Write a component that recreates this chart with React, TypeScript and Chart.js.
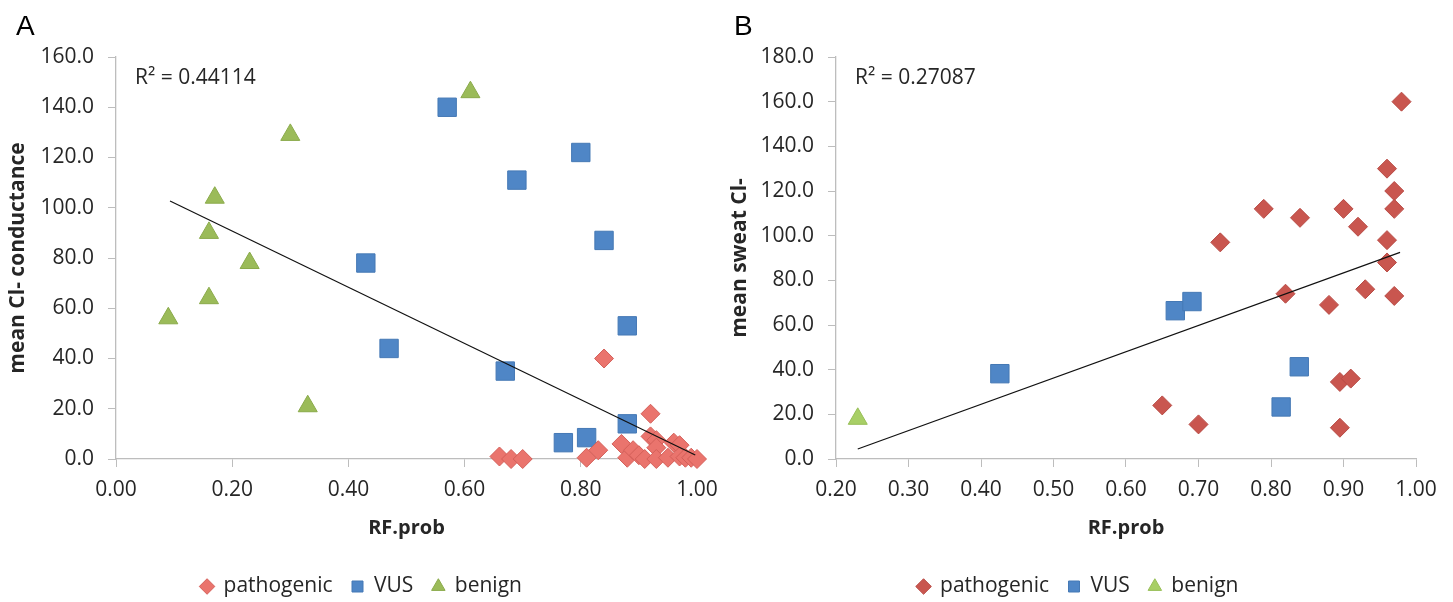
import React, { useEffect, useRef } from "react";
import { Chart, registerables } from "chart.js";

Chart.register(...registerables);

// ---- Chart A data ----
const pathogenicA: [number, number][] = [
  [0.66, 1], [0.68, 0], [0.70, 0], [0.81, 0.5], [0.83, 3.5], [0.84, 40], [0.87, 6],
  [0.88, 0.5], [0.89, 3.5], [0.90, 1.5], [0.91, 0], [0.92, 18], [0.92, 9], [0.93, 7.5],
  [0.93, 4.5], [0.93, 0], [0.95, 0.5], [0.96, 6.5], [0.97, 5.5], [0.97, 1], [0.98, 0.5],
  [0.99, 0.5], [1.0, 0],
];
const vusA: [number, number][] = [
  [0.57, 140], [0.80, 122], [0.69, 111], [0.43, 78], [0.84, 87], [0.47, 44],
  [0.67, 35], [0.88, 53], [0.77, 6.5], [0.81, 8.5], [0.88, 14],
];
const benignA: [number, number][] = [
  [0.09, 56], [0.16, 64], [0.16, 90], [0.17, 104], [0.23, 78], [0.30, 129],
  [0.33, 21], [0.61, 146],
];
const trendA: [number, number][] = [[0.093, 102.7], [0.997, 1.6]];
const r2A = "R² = 0.44114";

// ---- Chart B data ----
const pathogenicB: [number, number][] = [
  [0.98, 160], [0.96, 130], [0.97, 120], [0.97, 112], [0.79, 112], [0.84, 108],
  [0.90, 112], [0.92, 104], [0.96, 98], [0.73, 97], [0.96, 88], [0.82, 74],
  [0.93, 76], [0.97, 73], [0.88, 69], [0.895, 34.5], [0.91, 36], [0.65, 24],
  [0.70, 15.5], [0.895, 14],
];
const vusB: [number, number][] = [
  [0.668, 66.4], [0.691, 70.5], [0.839, 41.3], [0.814, 23.3], [0.426, 38.2],
];
const benignB: [number, number][] = [[0.23, 18]];
const trendB: [number, number][] = [[0.23, 4.5], [0.978, 92.5]];
const r2B = "R² = 0.27087";

const seriesNames = ["pathogenic", "VUS", "benign"];

const FONT = '"Open Sans", sans-serif';
const TEXT = "#262626";
const AXIS = "#BDBDBD";

const r2Plugin = {
  id: "r2",
  afterDraw(chart: any, _args: any, opts: any) {
    const { ctx, chartArea } = chart;
    ctx.save();
    ctx.font = `21px ${FONT}`;
    ctx.fillStyle = TEXT;
    ctx.textBaseline = "middle";
    ctx.textAlign = "left";
    ctx.fillText(opts.text, chartArea.left + 19, chartArea.top + 21);
    ctx.restore();
  },
};

const toPts = (arr: [number, number][]) => arr.map(([x, y]) => ({ x, y }));

function makeConfig(p: {
  path: [number, number][];
  vus: [number, number][];
  ben: [number, number][];
  trend: [number, number][];
  r2: string;
  colors: { path: string; pathB: string; vus: string; vusB: string; ben: string; benB: string };
  xMin: number;
  xMax: number;
  xStep: number;
  yMax: number;
  yTitle: string;
  padLeft: number;
  yWidth: number;
  padRight: number;
}) {
  const c = p.colors;
  return {
    type: "scatter",
    data: {
      datasets: [
        {
          label: seriesNames[0],
          data: toPts(p.path),
          pointStyle: "rectRot",
          pointRadius: 9.5,
          backgroundColor: c.path,
          borderColor: c.pathB,
          borderWidth: 1,
          clip: false,
          order: 1,
        },
        {
          label: seriesNames[1],
          data: toPts(p.vus),
          pointStyle: "rect",
          pointRadius: 13,
          backgroundColor: c.vus,
          borderColor: c.vusB,
          borderWidth: 1,
          clip: false,
          order: 2,
        },
        {
          label: seriesNames[2],
          data: toPts(p.ben),
          pointStyle: "triangle",
          pointRadius: 11,
          backgroundColor: c.ben,
          borderColor: c.benB,
          borderWidth: 1,
          clip: false,
          order: 3,
        },
        {
          label: "trend",
          type: "line",
          data: toPts(p.trend),
          showLine: true,
          pointRadius: 0,
          borderColor: "#111111",
          borderWidth: 1.2,
          fill: false,
          clip: false,
          order: 0,
        },
      ],
    },
    options: {
      responsive: false,
      animation: false,
      layout: { padding: { left: p.padLeft, right: p.padRight, top: 57, bottom: 0 } },
      plugins: {
        tooltip: { enabled: false },
        r2: { text: p.r2 },
        legend: {
          position: "bottom",
          maxHeight: 45,
          labels: {
            usePointStyle: true,
            boxWidth: 12,
            boxHeight: 11,
            padding: 19,
            color: TEXT,
            font: { family: FONT, size: 21 },
            filter: (item: any) => item.text !== "trend",
          },
        },
      },
      scales: {
        x: {
          type: "linear",
          min: p.xMin,
          max: p.xMax,
          afterFit: (s: any) => {
            s.height = 98;
            s.paddingRight = 0;
            s.paddingLeft = 0;
          },
          ticks: {
            stepSize: p.xStep,
            padding: 10,
            color: TEXT,
            font: { family: FONT, size: 21 },
            callback: (v: any) => Number(v).toFixed(2),
          },
          grid: { drawOnChartArea: false, drawTicks: true, tickLength: 8, color: AXIS },
          border: { color: AXIS, width: 1.3 },
          title: {
            display: true,
            text: "RF.prob",
            color: TEXT,
            font: { family: FONT, size: 20, weight: "bold" },
            padding: { top: 0, bottom: 17 },
          },
        },
        y: {
          type: "linear",
          min: 0,
          max: p.yMax,
          afterFit: (s: any) => {
            s.width = p.yWidth;
          },
          ticks: {
            stepSize: 20,
            padding: 14,
            color: TEXT,
            font: { family: FONT, size: 21 },
            callback: (v: any) => Number(v).toFixed(1),
          },
          grid: { drawOnChartArea: false, drawTicks: true, tickLength: 8, color: AXIS },
          border: { color: AXIS, width: 1.3 },
          title: {
            display: true,
            text: p.yTitle,
            color: TEXT,
            font: { family: FONT, size: 21, weight: "bold" },
            padding: { top: 18 - p.padLeft - 12.6, bottom: 0 },
          },
        },
      },
    },
    plugins: [r2Plugin],
  } as any;
}

function ChartCanvas({ config, width, height }: { config: any; width: number; height: number }) {
  const ref = useRef<HTMLCanvasElement | null>(null);
  useEffect(() => {
    if (!ref.current) return;
    const chart = new Chart(ref.current, config);
    return () => chart.destroy();
  }, [config]);
  return <canvas ref={ref} width={width} height={height} style={{ display: "block", width, height }} />;
}

const configA = makeConfig({
  path: pathogenicA,
  vus: vusA,
  ben: benignA,
  trend: trendA,
  r2: r2A,
  colors: {
    path: "#EA746D",
    pathB: "#D45F59",
    vus: "#4F86C6",
    vusB: "#4579B5",
    ben: "#9BBB59",
    benB: "#8AAA4A",
  },
  xMin: 0,
  xMax: 1,
  xStep: 0.2,
  yMax: 160,
  yTitle: "mean Cl- conductance",
  padLeft: 26,
  yWidth: 90,
  padRight: 25,
});

const configB = makeConfig({
  path: pathogenicB,
  vus: vusB,
  ben: benignB,
  trend: trendB,
  r2: r2B,
  colors: {
    path: "#C9564F",
    pathB: "#B84B45",
    vus: "#4F86C6",
    vusB: "#4579B5",
    ben: "#A8CF66",
    benB: "#98BF58",
  },
  xMin: 0.2,
  xMax: 1,
  xStep: 0.1,
  yMax: 180,
  yTitle: "mean sweat Cl-",
  padLeft: 18,
  yWidth: 96,
  padRight: 37,
});

export default function App() {
  const letter: React.CSSProperties = {
    position: "absolute",
    fontFamily: '"Liberation Sans", Arial, sans-serif',
    fontSize: 28,
    lineHeight: "28px",
    color: "#000",
  };
  return (
    <div style={{ position: "fixed", left: 0, top: 0, width: 1453, height: 602, background: "#fff", overflow: "hidden" }}>
      <div style={{ position: "absolute", left: 0, top: 0 }}>
        <ChartCanvas config={configA} width={722} height={602} />
      </div>
      <div style={{ position: "absolute", left: 722, top: 0 }}>
        <ChartCanvas config={configB} width={731} height={602} />
      </div>
      <div style={{ ...letter, left: 16, top: 12 }}>A</div>
      <div style={{ ...letter, left: 734, top: 12 }}>B</div>
    </div>
  );
}
